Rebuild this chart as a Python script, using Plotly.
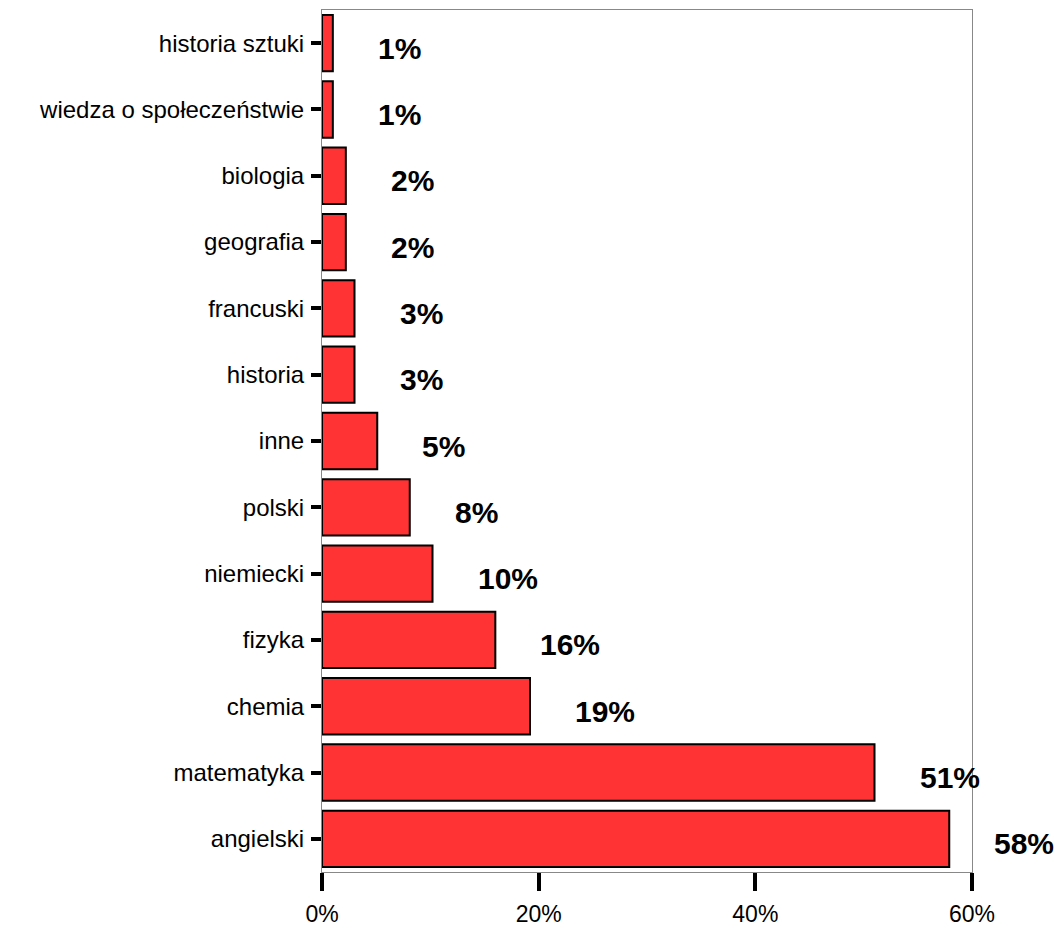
import plotly.graph_objects as go

categories = ["angielski", "matematyka", "chemia", "fizyka", "niemiecki", "polski",
              "inne", "historia", "francuski", "geografia", "biologia",
              "wiedza o społeczeństwie", "historia sztuki"]
values = [57.9, 51.0, 19.2, 16.0, 10.2, 8.1, 5.1, 3.0, 3.0, 2.2, 2.2, 1.0, 1.0]
labels = ["58%", "51%", "19%", "16%", "10%", "8%", "5%", "3%", "3%", "2%", "2%", "1%", "1%"]
x_ticks = [0, 20, 40, 60]
x_tick_text = ["0%", "20%", "40%", "60%"]

FONT = "Liberation Sans, Arial, sans-serif"

fig = go.Figure()
fig.add_trace(go.Bar(
    x=values, y=categories, orientation="h",
    marker=dict(color="#FF3333", line=dict(color="black", width=2)),
    hoverinfo="skip",
))

for v, c, t in zip(values, categories, labels):
    fig.add_annotation(x=v, y=c, text=f"<b>{t}</b>", showarrow=False,
                       xanchor="left", yanchor="middle", xshift=43, yshift=-5,
                       font=dict(family=FONT, size=30, color="black"))

fig.update_layout(
    width=1055, height=920,
    margin=dict(l=314, r=91, t=1, b=54),
    paper_bgcolor="white", plot_bgcolor="white",
    showlegend=False, bargap=0.15,
    font=dict(family=FONT, size=24, color="black"),
)
fig.update_xaxes(range=[0, 60], tickvals=x_ticks, ticktext=x_tick_text,
                 showgrid=False, zeroline=False,
                 showline=True, mirror=True, linecolor="#888888", linewidth=1,
                 ticks="outside", ticklen=18, tickwidth=4, tickcolor="black",
                 ticklabelstandoff=3,
                 tickfont=dict(family=FONT, size=23, color="black"))
fig.update_yaxes(showgrid=False, zeroline=False,
                 showline=True, mirror=True, linecolor="#888888", linewidth=1,
                 ticks="outside", ticklen=10, tickwidth=4, tickcolor="black",
                 ticklabelstandoff=2,
                 tickfont=dict(family=FONT, size=24, color="black"))

fig.write_html("out.html")
